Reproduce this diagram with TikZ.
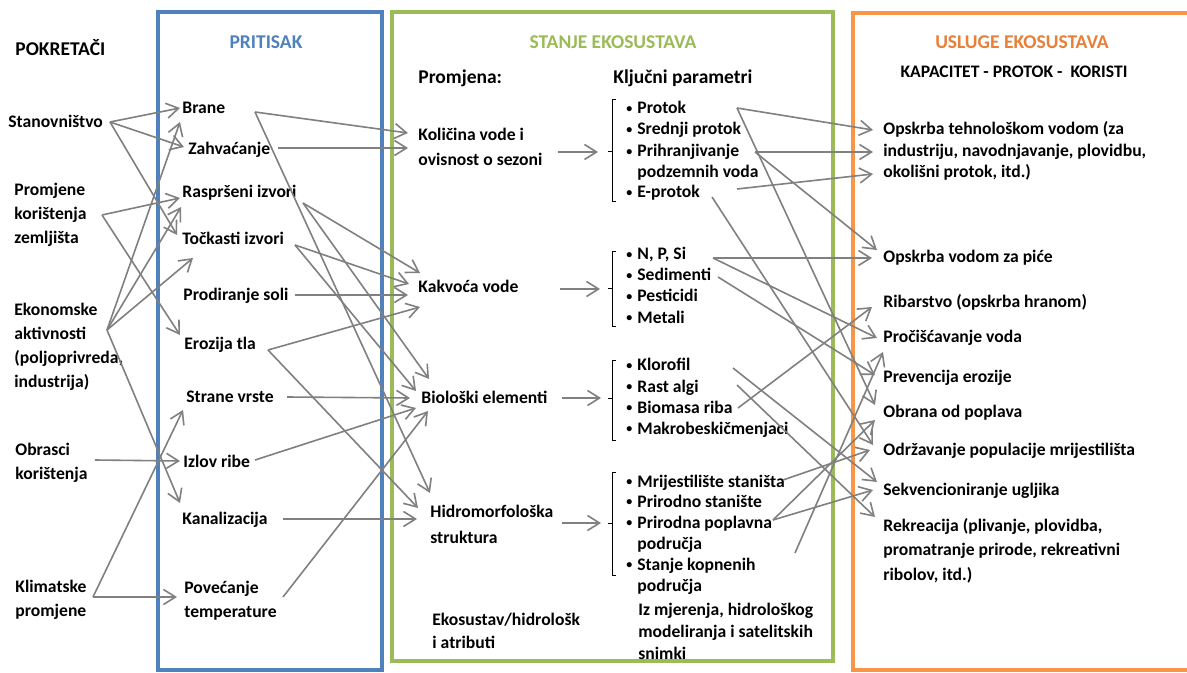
\documentclass[tikz,border=0pt]{standalone}
\usepackage{fontspec}
\setmainfont{Carlito}
\usetikzlibrary{arrows.meta}
\definecolor{cblue}{HTML}{4F81BD}
\definecolor{cgreen}{HTML}{9BBB59}
\definecolor{corange}{HTML}{F79646}
\definecolor{ctorange}{HTML}{E8803A}
\definecolor{cgray}{HTML}{808080}
\newcommand{\bul}{\makebox[6.5pt][l]{\hspace*{1pt}\raisebox{0.6pt}{\fontsize{6}{6}\selectfont\textbullet}}}
\tikzset{
  lbl/.style={anchor=base west, inner sep=0pt, align=left, font=\bfseries\fontsize{8.8}{#1}\selectfont},
  lbl/.default=12,
  hdr/.style={anchor=base, inner sep=0pt, font=\bfseries\fontsize{9.75}{12}\selectfont},
  sub/.style={anchor=base west, inner sep=0pt, font=\bfseries\fontsize{9.75}{12}\selectfont},
  arr/.style={draw=cgray, line width=0.8pt, -{Straight Barb[length=6pt,width=7.5pt]}},
  frame/.style={line width=2pt},
  brk/.style={draw=black, line width=0.5pt},
}
\begin{document}
\begin{tikzpicture}[x=0.5pt,y=-0.5pt]
\useasboundingbox (0,0) rectangle (1187,673);
\fill[white] (0,0) rectangle (1187,673);
% frames
\draw[frame, cblue] (158,12) rectangle (382,670);
\draw[frame, cgreen] (392,12) rectangle (833,661);
\draw[frame, corange] (1190,13) -- (853,13) -- (853,670) -- (1190,670);

% drivers (multi-line nodes are placed at the baseline of their last line)
\node[sub] (pok) at (15,56) {POKRETAČI};
\node[lbl] (stan) at (8,128) {Stanovništvo};
\node[lbl] (prom) at (14,244) {Promjene\\korištenja\\zemljišta};
\node[lbl] (ekon) at (14,387) {Ekonomske\\aktivnosti\\(poljoprivreda,\\industrija)};
\node[lbl] (obr) at (15,479) {Obrasci\\korištenja};
\node[lbl] (klim) at (15,616) {Klimatske\\promjene};

% pressures
\node[hdr, text=cblue] (prit) at (266,49) {PRITISAK};
\node[lbl] (brane) at (182,114) {Brane};
\node[lbl] (zahv) at (188,155) {Zahvaćanje};
\node[lbl] (rasp) at (182,198) {Raspršeni izvori};
\node[lbl] (tock) at (182,245) {Točkasti izvori};
\node[lbl] (prod) at (183,301) {Prodiranje soli};
\node[lbl] (eroz) at (184,350) {Erozija tla};
\node[lbl] (strane) at (186,402) {Strane vrste};
\node[lbl] (izlov) at (183,467) {Izlov ribe};
\node[lbl] (kanal) at (182,524) {Kanalizacija};
\node[lbl] (pov) at (184,617) {Povećanje\\temperature};

% state
\node[hdr, text=cgreen] (stanje) at (613,49) {STANJE EKOSUSTAVA};
\node[sub] (promj) at (418,84) {Promjena:};
\node[sub] (klj) at (613,84) {Ključni parametri};
\node[lbl=12.5] (kol) at (418,166) {Količina vode i\\ovisnost o sezoni};
\node[lbl] (kak) at (418,293) {Kakvoća vode};
\node[lbl] (bio) at (421,403) {Biološki elementi};
\node[lbl=13] (hid) at (430,543) {Hidromorfološka\\struktura};
\node[lbl=11.5] (eko) at (432,648) {Ekosustav/hidrološk\\i atributi};
\node[lbl=11] (iz) at (638,659) {Iz mjerenja, hidrološkog\\modeliranja i satelitskih\\snimki};

% key parameters
\node[lbl] (p1) at (624,114) {\bul Protok};
\node[lbl] (p2) at (624,135) {\bul Srednji protok};
\node[lbl=10.5] (p3) at (624,178) {\bul Prihranjivanje\\\hspace*{6.5pt}podzemnih voda};
\node[lbl] (p4) at (624,198) {\bul E-protok};
\node[lbl] (q1) at (624,260) {\bul N, P, Si};
\node[lbl] (q2) at (624,281) {\bul Sedimenti};
\node[lbl] (q3) at (624,302) {\bul Pesticidi};
\node[lbl] (q4) at (624,323) {\bul Metali};
\node[lbl] (r1) at (624,371) {\bul Klorofil};
\node[lbl] (r2) at (624,392) {\bul Rast algi};
\node[lbl] (r3) at (624,413) {\bul Biomasa riba};
\node[lbl] (r4) at (624,434) {\bul Makrobeskičmenjaci};
\node[lbl] (s1) at (624,487) {\bul Mrijestilište staništa};
\node[lbl] (s2) at (624,507) {\bul Prirodno stanište};
\node[lbl=10.5] (s3) at (624,549) {\bul Prirodna poplavna\\\hspace*{6.5pt}područja};
\node[lbl=10.5] (s4) at (624,591) {\bul Stanje kopnenih\\\hspace*{6.5pt}područja};

% brackets
\draw[brk] (616,100) -- (612,100) -- (612,202) -- (616,202) (612,152) -- (608,152);
\draw[brk] (616,252) -- (612,252) -- (612,327) -- (616,327) (612,289) -- (608,289);
\draw[brk] (616,360) -- (612,360) -- (612,440) -- (616,440) (612,398) -- (608,398);
\draw[brk] (616,472) -- (612,472) -- (612,575) -- (616,575) (612,523) -- (608,523);
\coordinate (b1) at (607,152);
\coordinate (b2) at (607,289);
\coordinate (b3) at (607,398);
\coordinate (b4) at (607,523);

% services
\node[hdr, text=ctorange] (usl) at (1022,49) {USLUGE EKOSUSTAVA};
\node[hdr, font=\bfseries\fontsize{8.8}{11}\selectfont] (kap) at (1014,78) {KAPACITET - PROTOK - \ KORISTI};
\node[lbl=10.75] (ops) at (883,178) {Opskrba tehnološkom vodom (za\\industriju, navodnjavanje, plovidbu,\\okolišni protok, itd.)};
\node[lbl] (pice) at (883,263) {Opskrba vodom za piće};
\node[lbl] (rib) at (883,307) {Ribarstvo (opskrba hranom)};
\node[lbl] (proc) at (883,343) {Pročišćavanje voda};
\node[lbl] (prev) at (883,382) {Prevencija erozije};
\node[lbl] (obrana) at (883,417) {Obrana od poplava};
\node[lbl] (odrz) at (883,455) {Održavanje populacije mrijestilišta};
\node[lbl] (sekv) at (883,495) {Sekvencioniranje ugljika};
\node[lbl=12.25] (rekr) at (883,580) {Rekreacija (plivanje, plovidba,\\promatranje prirode, rekreativni\\ribolov, itd.)};

% drivers -> pressures
\draw[arr] ([shift={(102,-6)}]stan.base west) -- ([shift={(-2,-6)}]brane.base west);
\draw[arr] ([shift={(102,-6)}]stan.base west) -- ([shift={(-4,-8)}]zahv.base west);
\draw[arr] ([shift={(102,-6)}]stan.base west) -- ([shift={(-5,-10)}]tock.base west);
\draw[arr] ([shift={(88,-29)}]prom.base west) -- ([shift={(-2,0)}]rasp.base west);
\draw[arr] ([shift={(88,-29)}]prom.base west) -- ([shift={(-4,-15)}]eroz.base west);
\draw[arr] ([shift={(93,-57)}]ekon.base west) -- ([shift={(-2,8)}]brane.base west);
\draw[arr] ([shift={(93,-57)}]ekon.base west) -- ([shift={(-1,9)}]rasp.base west);
\draw[arr] ([shift={(93,-57)}]ekon.base west) -- ([shift={(11,13)}]tock.base west);
\draw[arr] ([shift={(93,-57)}]ekon.base west) -- ([shift={(-2,-21)}]kanal.base west);
\draw[arr] ([shift={(80,-19)}]obr.base west) -- ([shift={(-3,-6)}]izlov.base west);
\draw[arr] ([shift={(78,-19)}]klim.base west) -- ([shift={(-3,8)}]strane.base west);
\draw[arr] ([shift={(78,-19)}]klim.base west) -- ([shift={(-7,-20)}]pov.base west);

% pressures -> state
\draw[arr] ([shift={(73,-2)}]brane.base west) -- ([shift={(-10,-33)}]kol.base west);
\draw[arr] ([shift={(73,-2)}]brane.base west) -- ([shift={(0,-50)}]hid.base west);
\draw[arr] ([shift={(90,-7)}]zahv.base west) -- ([shift={(-10,-18)}]kol.base west);
\draw[arr] ([shift={(121,5)}]rasp.base west) -- ([shift={(2,-20)}]kak.base west);
\draw[arr] ([shift={(121,5)}]rasp.base west) -- ([shift={(8,-24)}]bio.base west);
\draw[arr] ([shift={(113,0)}]tock.base west) -- ([shift={(-9,-9)}]kak.base west);
\draw[arr] ([shift={(113,0)}]tock.base west) -- ([shift={(-5,-12)}]bio.base west);
\draw[arr] ([shift={(112,-6)}]prod.base west) -- ([shift={(-10,2)}]kak.base west);
\draw[arr] ([shift={(84,0)}]eroz.base west) -- ([shift={(2,14)}]kak.base west);
\draw[arr] ([shift={(84,0)}]eroz.base west) -- ([shift={(-12,-35)}]hid.base west);
\draw[arr] ([shift={(101,-5)}]strane.base west) -- ([shift={(-11,-5)}]bio.base west);
\draw[arr] ([shift={(72,-7)}]izlov.base west) -- ([shift={(-5,5)}]bio.base west);
\draw[arr] ([shift={(101,-5)}]kanal.base west) -- ([shift={(-13,-24)}]hid.base west);
\draw[arr] ([shift={(99,-20)}]pov.base west) -- ([shift={(7,8)}]bio.base west);

% state -> key parameters
\draw[arr] ([shift={(140,-14)}]kol.base west) -- ([shift={(-9,0)}]b1);
\draw[arr] ([shift={(142,-4)}]kak.base west) -- ([shift={(-7,0)}]b2);
\draw[arr] ([shift={(141,-5)}]bio.base west) -- ([shift={(-6,0)}]b3);
\draw[arr] ([shift={(132,-20)}]hid.base west) -- ([shift={(-6,0)}]b4);

% key parameters -> services
\draw[arr] ([shift={(113,-6)}]p1.base west) -- ([shift={(-10,-48)}]ops.base west);
\draw[arr] ([shift={(113,-6)}]p1.base west) -- ([shift={(-8,-12)}]obrana.base west);
\draw[arr] ([shift={(131,-26)}]p3.base west) -- ([shift={(-10,-26)}]ops.base west);
\draw[arr] ([shift={(131,-26)}]p3.base west) -- ([shift={(-6,-13)}]pice.base west);
\draw[arr] ([shift={(113,11)}]p3.base west) -- ([shift={(-10,-4)}]ops.base west);
\draw[arr] ([shift={(88,-1)}]p4.base west) -- ([shift={(-10,-10)}]odrz.base west);
\draw[arr] ([shift={(89,-2)}]q1.base west) -- ([shift={(-11,-5)}]pice.base west);
\draw[arr] ([shift={(89,-2)}]q1.base west) -- ([shift={(-6,-5)}]proc.base west);
\draw[arr] ([shift={(94,-4)}]q2.base west) -- ([shift={(-8,-7)}]prev.base west);
\draw[arr] ([shift={(114,-5)}]r3.base west) -- ([shift={(-11,0)}]rib.base west);
\draw[arr] ([shift={(109,-3)}]r1.base west) -- ([shift={(-6,-13)}]sekv.base west);
\draw[arr] ([shift={(113,-7)}]r2.base west) -- ([shift={(-8,-63)}]rekr.base west);
\draw[arr] ([shift={(159,-7)}]s1.base west) -- ([shift={(-13,-5)}]odrz.base west);
\draw[arr] ([shift={(149,-29)}]s3.base west) -- ([shift={(-8,3)}]obrana.base west);
\draw[arr] ([shift={(149,-29)}]s3.base west) -- ([shift={(-10,-5)}]sekv.base west);
\draw[arr] ([shift={(171,-38)}]s4.base west) -- ([shift={(0,9)}]proc.base west);
\end{tikzpicture}
\end{document}
